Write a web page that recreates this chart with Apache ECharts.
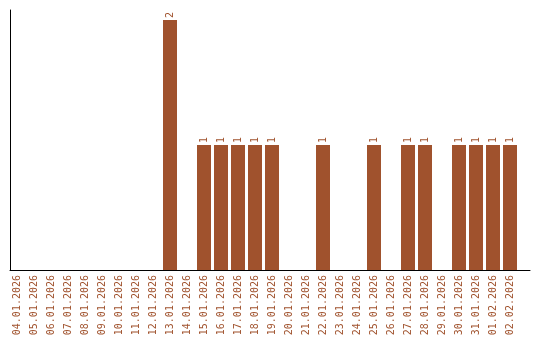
<!DOCTYPE html>
<html><head><meta charset="utf-8">
<script src="https://cdn.jsdelivr.net/npm/echarts@6/dist/echarts.min.js"></script>
<style>html,body{margin:0;padding:0;background:#fff}#c{width:540px;height:340px}</style>
</head><body><div id="c"></div>
<script>
const categories = ["04.01.2026","05.01.2026","06.01.2026","07.01.2026","08.01.2026","09.01.2026","10.01.2026","11.01.2026","12.01.2026","13.01.2026","14.01.2026","15.01.2026","16.01.2026","17.01.2026","18.01.2026","19.01.2026","20.01.2026","21.01.2026","22.01.2026","23.01.2026","24.01.2026","25.01.2026","26.01.2026","27.01.2026","28.01.2026","29.01.2026","30.01.2026","31.01.2026","01.02.2026","02.02.2026"];
const values = [0,0,0,0,0,0,0,0,0,2,0,1,1,1,1,1,0,0,1,0,0,1,0,1,1,0,1,1,1,1];

const brown = '#A0522D';
const chart = echarts.init(document.getElementById('c'), null, {renderer:'canvas'});
chart.setOption({
  animation:false,
  grid:[
    {left:8.5, width:510, top:10, height:260},
    {left:10, right:10, top:10, height:260}
  ],
  xAxis:[
    {type:'category', gridIndex:0, data:categories,
     axisLine:{show:false}, axisTick:{show:false},
     axisLabel:{rotate:90, interval:0, color:brown, fontFamily:'DejaVu Sans Mono', fontSize:10, margin:5}},
    {type:'value', gridIndex:1, min:0, max:1,
     axisLine:{show:true, onZero:false, lineStyle:{color:'#000', width:1}},
     axisTick:{show:false}, axisLabel:{show:false}, splitLine:{show:false}}
  ],
  yAxis:[
    {type:'value', gridIndex:0, min:0, max:2.08, show:false},
    {type:'value', gridIndex:1, min:0, max:1,
     axisLine:{show:true, onZero:false, lineStyle:{color:'#000', width:1}},
     axisTick:{show:false}, axisLabel:{show:false}, splitLine:{show:false}}
  ],
  series:[{
    type:'bar', xAxisIndex:0, yAxisIndex:0,
    data:values.map(v => v === 0 ? {value:0, label:{show:false}} : v),
    barWidth:14,
    itemStyle:{color:brown},
    label:{show:true, position:'top', rotate:90, align:'left', verticalAlign:'middle', distance:2,
      color:brown, fontFamily:'DejaVu Sans Mono', fontSize:10}
  }]
});
</script></body></html>
